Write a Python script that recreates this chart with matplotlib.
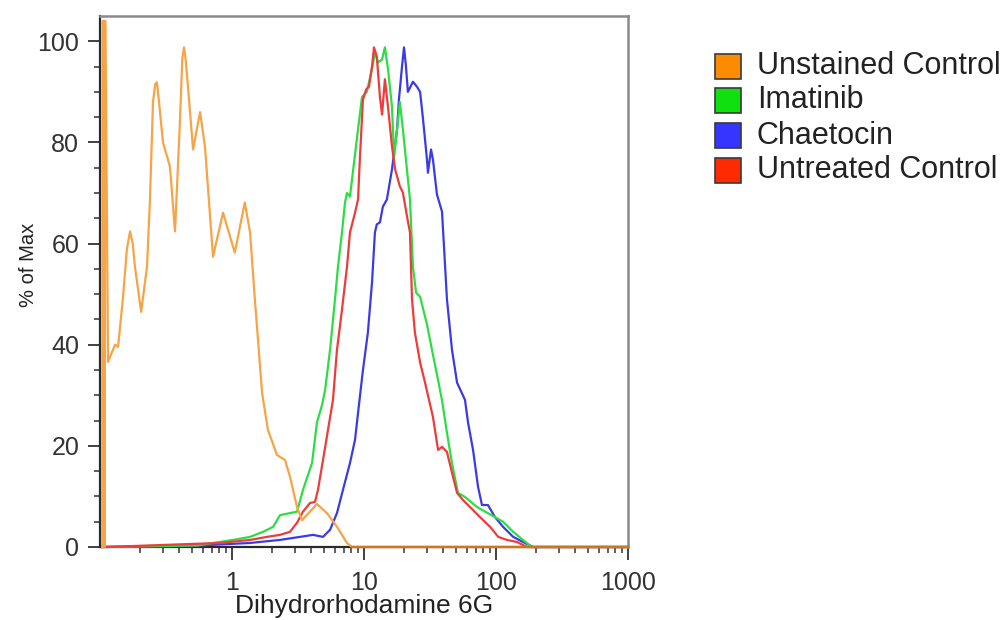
import matplotlib
matplotlib.use("Agg")
import matplotlib.pyplot as plt
from matplotlib.patches import Rectangle
from matplotlib.ticker import LogLocator, FixedLocator, NullFormatter

plt.rcParams['font.family'] = ['Liberation Sans', 'DejaVu Sans']

# ---- histogram traces (fluorescence intensity, % of max) ----
unstained_x = [0.104, 0.1045, 0.110, 0.115, 0.130, 0.137, 0.149, 0.160, 0.169, 0.177,
               0.184, 0.205, 0.227, 0.239, 0.252, 0.262, 0.270, 0.280, 0.300, 0.339,
               0.370, 0.404, 0.420, 0.433, 0.447, 0.464, 0.507, 0.573, 0.624, 0.718,
               0.855, 1.05, 1.25, 1.37, 1.49, 1.69, 1.87, 2.19, 2.52, 2.75,
               3.11, 3.39, 3.90, 4.40, 5.24, 6.24, 7.43, 8.11, 1000]
unstained_y = [0, 104, 104, 36.6, 40, 39.6, 49, 59, 62.4, 60,
               55.4, 46.5, 55.4, 68.7, 88, 91.5, 91.9, 88, 80, 75.2,
               62.4, 84.6, 96.5, 98.8, 96, 91, 78.6, 86, 79.2, 57.4,
               66.1, 58.2, 68.1, 62.2, 49, 30.5, 23.2, 18.2, 17.2, 13.9,
               7.9, 5.3, 7.0, 8.5, 6.7, 4, 0.8, 0, 0]

imatinib_x = [0.104, 0.55, 0.72, 1.02, 1.37, 1.72, 2.05, 2.31, 2.75, 3.11,
              3.45, 4.04, 4.40, 4.81, 5.07, 5.53, 6.03, 6.35, 6.81, 7.18,
              7.43, 7.83, 9.01, 9.66, 10.5, 11.5, 12.1, 12.8, 13.7, 14.4,
              15.2, 16.3, 16.9, 18.7, 19.7, 22.3, 23.5, 24.8, 26.6, 30.0,
              33.3, 36.4, 39.0, 42.5, 46.4, 51.5, 58.2, 71.8, 98.3, 113,
              135, 160, 187, 1000]
imatinib_y = [0, 0.3, 0.8, 1.4, 2.0, 3.0, 4.0, 6.3, 6.7, 7.0,
              11.3, 16.6, 24.6, 28.1, 31, 39, 49, 55.4, 62.2, 68.1,
              70, 69.3, 82.6, 89, 90, 94.5, 97.8, 95.8, 96.4, 98.8,
              94.5, 87, 77, 88, 82.6, 68.7, 55.4, 50.3, 49.5, 44,
              38, 33, 29, 22.6, 16.6, 10.7, 9.9, 7.9, 5.9, 5,
              3, 1.4, 0, 0]

chaetocin_x = [0.104, 0.48, 1.37, 2.31, 3.27, 4.11, 4.89, 5.53, 6.24, 6.93,
               7.83, 8.55, 9.01, 9.82, 10.7, 11.5, 12.1, 12.5, 13.2, 13.9,
               14.9, 16.3, 17.8, 18.4, 19.4, 20.1, 20.8, 21.5, 23.5, 25.2,
               26.6, 28.0, 30.0, 30.5, 32.2, 33.3, 35.7, 39.0, 42.5, 46.4,
               50.7, 58.2, 61.4, 67.0, 73.1, 78.3, 86.9, 98.3, 113, 135,
               160, 191, 1000]
chaetocin_y = [0, 0.2, 0.8, 1.4, 2, 2.4, 2, 3.4, 6.7, 11.3,
               16.6, 21.2, 26.5, 35, 42.4, 52.3, 62.2, 63.8, 64.2, 67.3,
               68.7, 74.7, 82.6, 88.5, 95, 98.8, 95, 90, 92, 91,
               90, 84.6, 76.6, 74, 78.6, 76.6, 69.7, 66.3, 49, 39,
               32.5, 29.1, 24.6, 19.2, 11.9, 8.3, 8.3, 5.9, 4, 2,
               1, 0, 0]

untreated_x = [0.104, 0.107, 0.110, 0.811, 1.37, 1.84, 2.31, 2.75, 3.11, 3.45,
               3.90, 4.25, 4.48, 4.89, 5.34, 5.82, 6.24, 6.81, 7.43, 7.83,
               8.55, 9.01, 9.3, 9.82, 10.4, 10.9, 11.5, 11.9, 12.5, 13.2,
               13.7, 14.4, 15.2, 16.3, 17.2, 18.7, 19.7, 21.2, 22.3, 23.1,
               24.3, 26.6, 29.0, 30.5, 33.3, 36.4, 39.0, 42.5, 46.4, 50.7,
               56.2, 63.5, 75.7, 90.1, 104, 121, 144, 172, 1000]
untreated_y = [0, 1.2, 0, 0.8, 1.4, 2, 2.4, 3, 4.8, 7,
               8.7, 8.9, 11.3, 17.2, 23.2, 29.1, 39, 46.9, 55.4, 62.2,
               66.1, 68.7, 76.6, 88.5, 90.5, 91, 95, 98.8, 97, 89,
               85.5, 92.5, 87, 79.2, 74.7, 71.3, 70.1, 65.3, 62.2, 49,
               42.4, 36.5, 32.5, 30, 25.7, 19.2, 19.8, 18.8, 14.7, 10.7,
               9.3, 7.9, 5.9, 4, 2, 1.4, 1, 0, 0]

series_names = ["Unstained Control", "Imatinib", "Chaetocin", "Untreated Control"]
line_colors = ["#F6A447", "#2EDD46", "#3B3BE6", "#EE3B3B"]
swatch_colors = ["#FF8C00", "#10E010", "#3535FF", "#FF2A00"]

x_major = [1, 10, 100, 1000]
y_major = [0, 20, 40, 60, 80, 100]

fig = plt.figure(figsize=(10.06, 6.2), dpi=100)
ax = fig.add_axes([100 / 1006, 1 - 547 / 620, 528 / 1006, 531 / 620])

traces = [(unstained_x, unstained_y), (imatinib_x, imatinib_y),
          (chaetocin_x, chaetocin_y), (untreated_x, untreated_y)]
draw_order = [0, 2, 1, 3]
for i in draw_order:
    xs, ys = traces[i]
    ax.plot(xs, ys, color=line_colors[i], lw=1.6, solid_joinstyle='round',
            clip_on=False, zorder=3 + (1 if i == 0 else 0))
# thick first bin of the unstained trace at the left edge
ax.fill_between(unstained_x[:3], 0, unstained_y[:3], color=line_colors[0],
                lw=0, zorder=4)
# orange baseline overlaid on the x axis
ax.plot([8.11, 1000], [0, 0], color="#C8781E", lw=1.6, clip_on=False, zorder=6)

ax.set_xscale('log')
ax.set_xlim(0.1, 1000)
ax.set_ylim(0, 105)

ax.xaxis.set_major_locator(FixedLocator(x_major))
ax.set_xticklabels([str(v) for v in x_major])
ax.xaxis.set_minor_locator(LogLocator(base=10, subs=range(2, 10), numticks=20))
ax.xaxis.set_minor_formatter(NullFormatter())
ax.yaxis.set_major_locator(FixedLocator(y_major))
ax.set_yticklabels([str(v) for v in y_major])
ax.yaxis.set_minor_locator(FixedLocator(list(range(0, 101, 5))))

ax.tick_params(axis='both', which='major', direction='out', length=9, width=1.3,
               color='#333333', labelsize=18, labelcolor='#333333', pad=6)
ax.tick_params(axis='both', which='minor', direction='out', length=4.5, width=1.1,
               color='#333333')
ax.tick_params(axis='x', which='major', pad=8)

for side in ['left', 'bottom']:
    ax.spines[side].set_color('#2a2a2a')
    ax.spines[side].set_linewidth(1.6)
for side in ['top', 'right']:
    ax.spines[side].set_color('#8a8a8a')
    ax.spines[side].set_linewidth(1.8)

W, H = 1006.0, 620.0
# axis titles placed in figure pixels
fig.text(364 / W, 1 - 613 / H, "Dihydrorhodamine 6G", fontsize=19,
         color='#222222', ha='center', va='baseline')
fig.text(29 / W, 1 - 265 / H, "% of Max", fontsize=14.5, color='#222222',
         rotation=90, ha='center', va='center')

# legend drawn as colour swatches with labels in figure pixels
row_centres = [66, 100.5, 135.5, 170.5]
for name, col, yc in zip(series_names, swatch_colors, row_centres):
    fig.add_artist(Rectangle((715 / W, 1 - (yc + 12.5) / H), 26 / W, 25 / H,
                             transform=fig.transFigure, facecolor=col,
                             edgecolor='#3a3a3a', linewidth=1.2))
    fig.text(757 / W, 1 - yc / H, name, fontsize=22, color='#222222',
             ha='left', va='center')

fig.savefig("out.png", dpi=100, facecolor='white')
